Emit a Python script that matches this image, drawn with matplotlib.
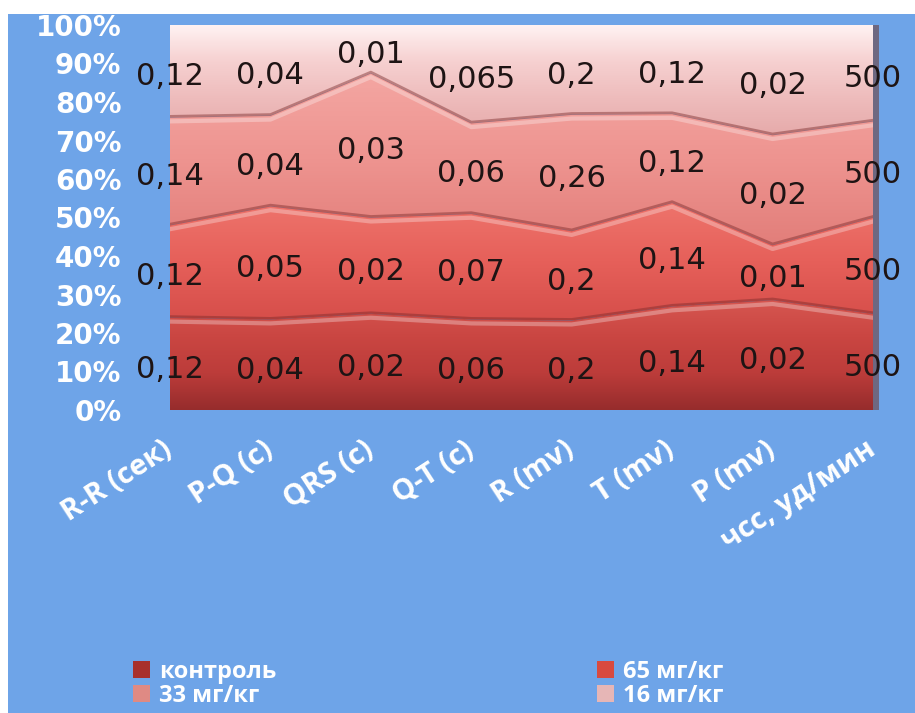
"""
Stacked 100% area chart of ECG parameters for the control group and
three dose groups, with the raw values written inside each band.
"""

import numpy as np
import matplotlib
matplotlib.use("Agg")
import matplotlib.pyplot as plt
from matplotlib.patches import Patch, Rectangle
from matplotlib import transforms

categories = ["R-R (сек)", "P-Q (с)", "QRS (с)", "Q-T (с)",
              "R (mv)", "T (mv)", "P (mv)", "чсс, уд/мин"]

series_names = ["контроль", "65 мг/кг", "33 мг/кг", "16 мг/кг"]
control = [0.12, 0.04, 0.02, 0.06, 0.2, 0.14, 0.02, 500]
dose_65 = [0.12, 0.05, 0.02, 0.07, 0.2, 0.14, 0.01, 500]
dose_33 = [0.14, 0.04, 0.03, 0.06, 0.26, 0.12, 0.02, 500]
dose_16 = [0.12, 0.04, 0.01, 0.065, 0.2, 0.12, 0.02, 500]

# gradient stops for each band, top -> bottom (rgb 0-255)
band_colors = [
    [(214, 86, 80), (202, 70, 66), (188, 60, 58), (150, 44, 44)],
    [(238, 116, 108), (230, 96, 90), (214, 78, 74)],
    [(244, 166, 162), (238, 148, 144), (226, 126, 122)],
    [(255, 242, 242), (246, 208, 208), (238, 188, 188), (230, 170, 170)],
]
legend_colors = ["#a8302c", "#d84a40", "#df8a84", "#e6b6b6"]

BG_BLUE = "#6ea4e8"


def gradient_band(ax, x, lower, upper, stops):
    poly = ax.fill_between(x, lower, upper, facecolor="none",
                           edgecolor="none", zorder=1)
    t = np.linspace(0, 1, 256)
    pos = np.linspace(0, 1, len(stops))
    stops = np.array(stops) / 255.0
    cols = np.stack([np.interp(t, pos, stops[:, k]) for k in range(3)], axis=1)
    img = ax.imshow(cols[:, None, :], extent=[x[0], x[-1], lower.min(), upper.max()],
                    origin="upper", aspect="auto", zorder=1,
                    interpolation="bilinear")
    img.set_clip_path(poly.get_paths()[0], ax.transData)


def main():
    fig = plt.figure(figsize=(9.15, 7.13), dpi=100)
    fig.patch.set_facecolor("white")
    fig.patches.append(Rectangle((8 / 915, 0), 1, 1 - 14 / 713,
                                 transform=fig.transFigure,
                                 facecolor=BG_BLUE, edgecolor="none", zorder=-5))

    ax = fig.add_axes([170 / 915, 1 - 410 / 713, 703 / 915, 385 / 713])
    ax.patch.set_visible(False)

    data = np.array([control, dose_65, dose_33, dose_16], dtype=float)
    pct = data / data.sum(axis=0) * 100
    x = np.arange(len(categories))

    bottom = np.zeros(len(categories))
    for i in range(len(series_names)):
        top = bottom + pct[i]
        gradient_band(ax, x, bottom, top, band_colors[i])
        bottom = top

    # bevel look along the borders between bands
    bottom = np.zeros(len(categories))
    for i in range(len(series_names) - 1):
        bottom = bottom + pct[i]
        shade = transforms.offset_copy(ax.transData, fig=fig, x=0, y=1, units="dots")
        light = transforms.offset_copy(ax.transData, fig=fig, x=0, y=-4, units="dots")
        ax.plot(x, bottom, color="#7a2a2a", lw=2, alpha=0.45, transform=shade, zorder=2)
        ax.plot(x, bottom, color="white", lw=3, alpha=0.3, transform=light, zorder=2)

    # depth edge on the right side
    ax.add_patch(Rectangle((1.0, 0), 0.008, 1, transform=ax.transAxes,
                           facecolor="#6f5a68", edgecolor="none", alpha=0.8,
                           clip_on=False, zorder=2))

    # value labels in the middle of each band
    bottom = np.zeros(len(categories))
    for i in range(len(series_names)):
        mid = bottom + pct[i] / 2
        for j in range(len(categories)):
            txt = f"{data[i, j]:g}".replace(".", ",")
            ax.annotate(txt, (x[j], mid[j]), xytext=(0, -4),
                        textcoords="offset points", ha="center", va="center",
                        fontsize=22, color="#1e1414", family="DejaVu Sans",
                        zorder=5, annotation_clip=False)
        bottom = bottom + pct[i]

    ax.set_xlim(0, len(categories) - 1)
    ax.set_ylim(0, 100)
    for s in ax.spines.values():
        s.set_visible(False)

    ax.set_yticks(range(0, 101, 10))
    ax.set_yticklabels([f"{t}%" for t in range(0, 101, 10)],
                       fontsize=20, fontweight="bold", color="white",
                       family="DejaVu Sans")
    ax.set_xticks(x)
    ax.set_xticklabels(categories, rotation=33, ha="right", va="center",
                       rotation_mode="anchor", fontsize=21, fontweight="bold",
                       color="white", family="Open Sans")
    ax.tick_params(axis="y", length=0, pad=35)
    ax.tick_params(axis="x", length=0, pad=27)

    handles = [Patch(facecolor=c, edgecolor="none") for c in legend_colors]
    order = [0, 2, 1, 3]
    leg = fig.legend([handles[k] for k in order], [series_names[k] for k in order],
                     ncol=2, loc="upper left", bbox_to_anchor=(133 / 915, 1 - 660 / 713),
                     frameon=False, handlelength=0.7, handleheight=0.7,
                     handletextpad=0.4, columnspacing=13.6, labelspacing=0.0,
                     borderpad=0.0, borderaxespad=0.0,
                     prop={"family": "Open Sans", "weight": "bold", "size": 17})
    for t in leg.get_texts():
        t.set_color("white")

    fig.savefig("out.png", dpi=100, facecolor=fig.get_facecolor())


if __name__ == "__main__":
    main()
